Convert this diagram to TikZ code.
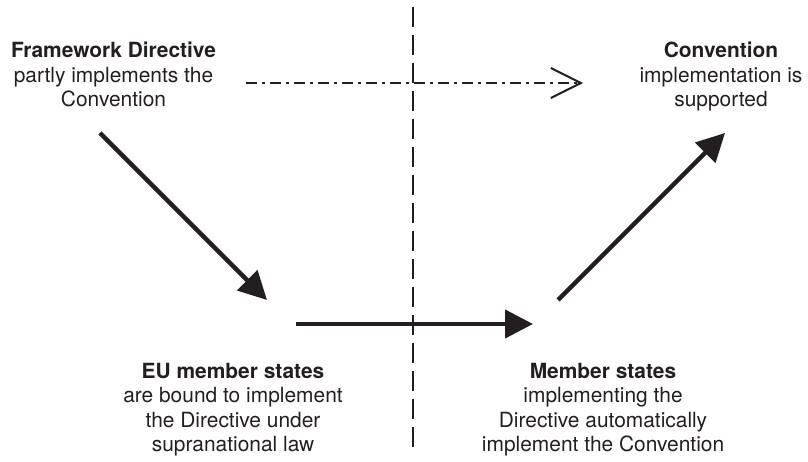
\documentclass[tikz,border=0pt]{standalone}
\usepackage{fontspec}
\setmainfont{TeX Gyre Heros}
\usetikzlibrary{arrows.meta}
\definecolor{ink}{HTML}{231F20}
\begin{document}
\begin{tikzpicture}[x=1bp,y=-1bp,
  lbl/.style={align=center, inner sep=0pt, anchor=north, text=ink,
    font=\fontsize{21}{24.5}\selectfont},
  bigarrow/.style={draw=ink, line width=4.5bp, -{Triangle[length=28bp,width=28bp]}},
  divider/.style={draw=ink, line width=2.5bp, dash pattern=on 20bp off 8bp},
  weaklink/.style={draw=ink, line width=2bp, dash pattern=on 11bp off 5bp on 3bp off 5bp,
    -{Straight Barb[length=30bp,width=30bp,line width=2bp]}}]
\useasboundingbox (0,0) rectangle (808,462);

\node[lbl] (fd) at (113.5,42) {\textbf{Framework Directive}\\partly implements the\\Convention};
\node[lbl] (cv) at (721,42) {\textbf{Convention}\\implementation is\\supported};
\node[lbl] (eu) at (233,363) {\textbf{EU member states}\\are bound to implement\\the Directive under\\supranational law};
\node[lbl] (ms) at (603,363) {\textbf{Member states}\\implementing the\\Directive automatically\\implement the Convention};

\coordinate (vt) at (413,7);
\coordinate (vb) at (413,452);
\coordinate (dds) at (246,83);
\coordinate (dde) at (583,83);
\coordinate (a1s) at (100,133);
\coordinate (a1e) at (267,300);
\coordinate (a2s) at (296,324);
\coordinate (a2e) at (533,324);
\coordinate (a3s) at (558,300);
\coordinate (a3e) at (725,133);

\draw[divider] (vt) -- (vb);
\draw[weaklink] (dds) -- (dde);
\draw[bigarrow] (a1s) -- (a1e);
\draw[bigarrow] (a2s) -- (a2e);
\draw[bigarrow] (a3s) -- (a3e);
\end{tikzpicture}
\end{document}
